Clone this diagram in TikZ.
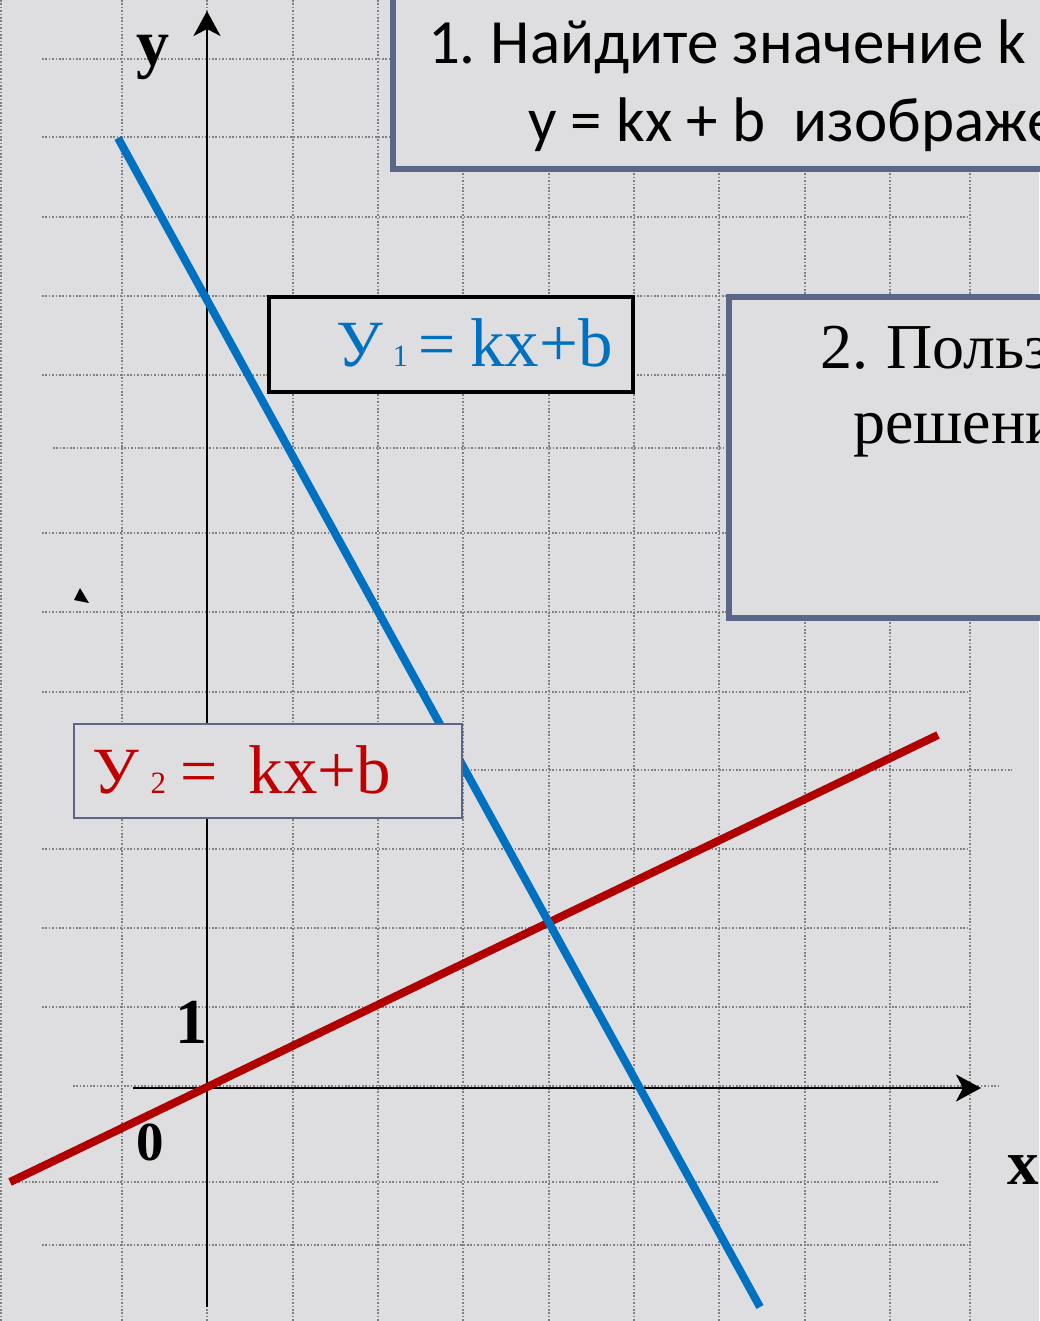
\documentclass[tikz,border=0pt]{standalone}
\usepackage{fontspec}
\setmainfont{Liberation Serif}
\newfontfamily\calib{Carlito}
\usetikzlibrary{arrows.meta}
\definecolor{bgc}{RGB}{222,222,224}
\definecolor{gridc}{RGB}{128,128,128}
\definecolor{slate}{RGB}{91,103,135}
\definecolor{blueline}{RGB}{0,112,192}
\definecolor{redline}{RGB}{176,0,0}
\definecolor{redtext}{RGB}{192,0,0}
\begin{document}
\begin{tikzpicture}[x=1pt,y=-1pt,
  gridline/.style={draw=gridc,line width=1.3pt,dash pattern=on 1.6pt off 1.8pt},
  axisline/.style={draw=black,line width=2.5pt},
  axtip/.style={-{Stealth[length=25pt,width=27pt,inset=7pt]}},
  graphline/.style={line width=8pt},
  txt/.style={anchor=base west,inner sep=0pt,outer sep=0pt},
  axlabel/.style={anchor=base,inner sep=0pt,font=\bfseries\fontsize{#1}{#1}\selectfont}
]
\useasboundingbox (0,0) rectangle (1039,1321);
\fill[bgc] (0,0) rectangle (1039,1321);
% grid
\foreach \x in {1,122,207,293,378,463,549,634,719,805,890,970}
  \draw[gridline] (\x,0) -- (\x,1321);
\foreach \y/\a/\b in {59/42/970,137/42/970,217/42/970,296/42/970,375/42/970,
  448/53/1039,533/42/970,612/42/970,692/42/970,770/73/1012,849/42/970,
  928/42/970,1007/42/970,1086/73/1000,1182/15/938,1245/42/970}
  \draw[gridline] (\a,\y) -- (\b,\y);
% big text boxes
\draw[slate,line width=6pt,fill=bgc] (393,-10) rectangle (1060,169);
\draw[slate,line width=6pt,fill=bgc] (729,297) rectangle (1060,618);
\node[txt,font=\calib\fontsize{63}{63}\selectfont] (t1a) at (428,64) {1.\kern-4pt{} Найдите значение k};
\node[txt,font=\calib\fontsize{63}{63}\selectfont] (t1b) at (528,142) {y = kx + b\ \ изображе};
\node[txt,font=\fontsize{64}{64}\selectfont] (t2a) at (820,368) {2.\kern-3pt{} Польз};
\node[txt,font=\fontsize{64}{64}\selectfont] (t2b) at (853,443) {решени};
% axes
\coordinate (ytop) at (207,11);
\coordinate (ybot) at (207,1307);
\coordinate (xleft) at (133,1088);
\coordinate (xright) at (981,1088);
\draw[axisline,axtip] (ybot) -- (ytop);
\draw[axisline,axtip] (xleft) -- (xright);
% graphs
\coordinate (r1) at (10,1182);
\coordinate (r2) at (938,735);
\coordinate (b1) at (118,138);
\coordinate (b2) at (760,1307);
\draw[graphline,redline] (r1) -- (r2);
\draw[graphline,blueline] (b1) -- (b2);
% small triangle
\fill[black] (80,588) -- (74,600) -- (89,603) -- cycle;
% formula boxes
\draw[black,line width=4pt,fill=bgc] (269,297) rectangle (633,392);
\node[txt,text=blueline,font=\fontsize{66}{66}\selectfont] (y1lab) at (336,366)
  {У\kern10pt{\fontsize{31}{31}\selectfont 1}\kern10pt=\kern15pt{\fontsize{69}{69}\selectfont kx+b}};
\draw[slate,line width=2.5pt,fill=bgc] (74,724) rectangle (462,818);
\node[txt,text=redtext,font=\fontsize{66}{66}\selectfont] (y2lab) at (92,793)
  {У\kern12pt{\fontsize{31}{31}\selectfont 2}\kern14.5pt=\kern31pt{\fontsize{69}{69}\selectfont kx+b}};
% axis labels
\node[axlabel=66] (ylab) at (153,66) {y};
\node[axlabel=64] (onelab) at (191,1043) {1};
\node[axlabel=55] (zerolab) at (150,1160) {0};
\node[axlabel=63] (xlab) at (1023,1184) {x};
\end{tikzpicture}
\end{document}
